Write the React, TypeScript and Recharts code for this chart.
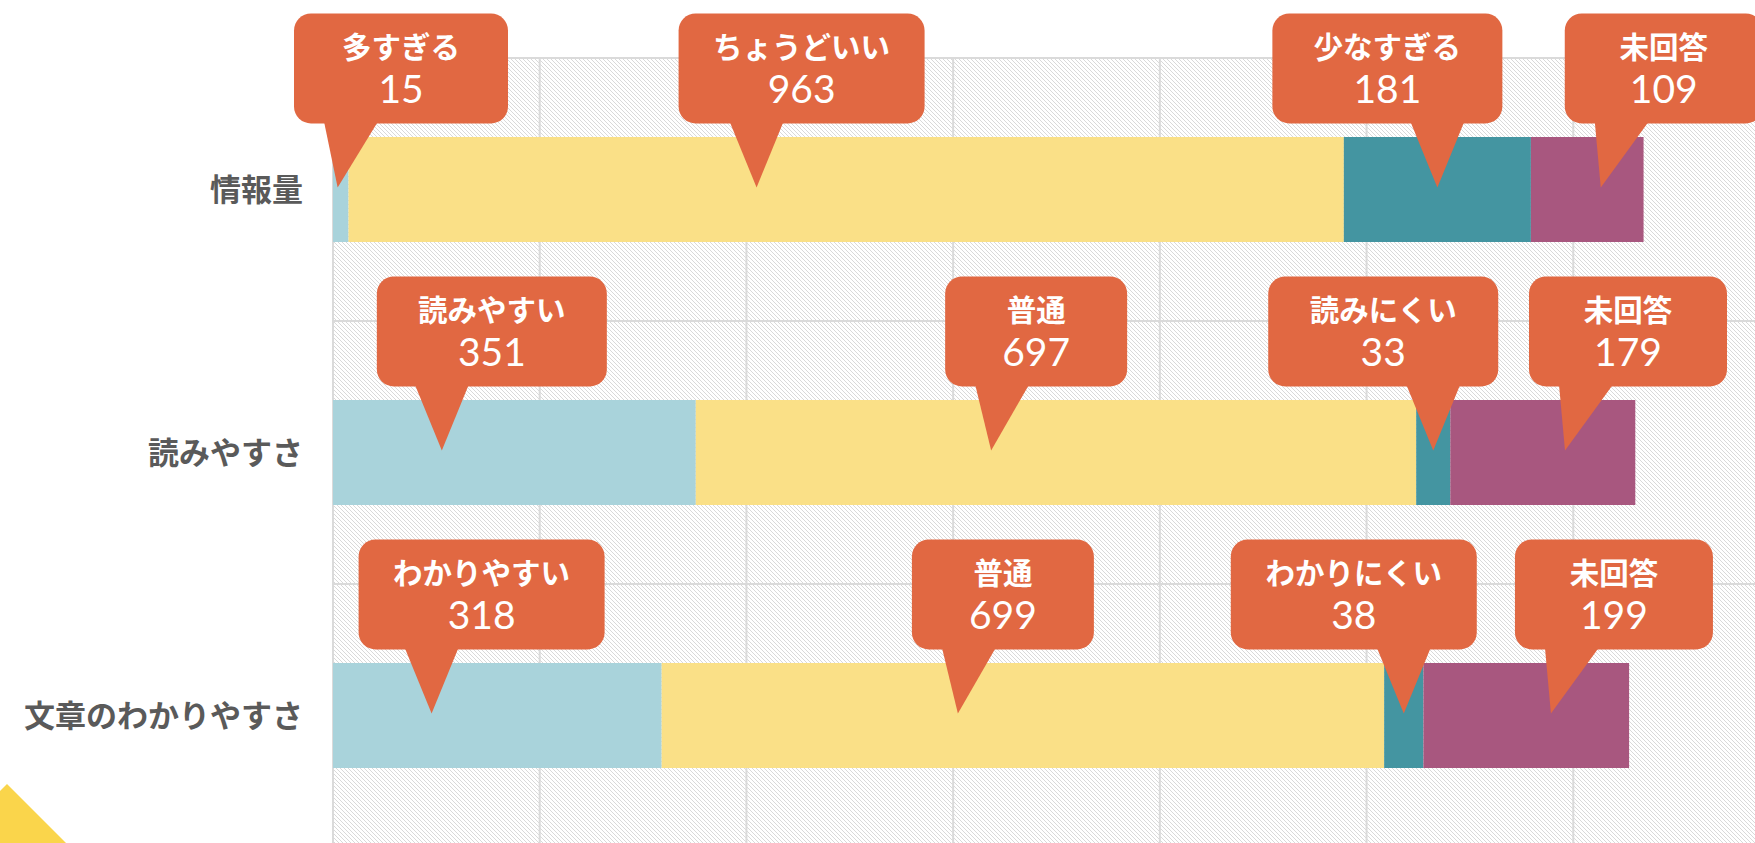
import { BarChart, Bar, XAxis, YAxis, CartesianGrid, LabelList } from "recharts";

const categories = ["情報量", "読みやすさ", "文章のわかりやすさ"];
const answerLabels = [
  ["多すぎる", "ちょうどいい", "少なすぎる", "未回答"],
  ["読みやすい", "普通", "読みにくい", "未回答"],
  ["わかりやすい", "普通", "わかりにくい", "未回答"],
];
const first = [15, 351, 318];
const second = [963, 697, 699];
const third = [181, 33, 38];
const noAnswer = [109, 179, 199];
const xTicks = [0, 200, 400, 600, 800, 1000, 1200, 1400];

const colors = ["#A9D3DB", "#FAE087", "#4495A1", "#A8577F"];
const calloutColor = "#E16842";

// where the pointer lands inside each segment, and how far the box sits from it
const tipFrac = [0.3, 0.41, 0.5, 0.62];
const boxShift = [50, 45, -50, 63];

const data = categories.map((name, i) => ({
  name,
  a: first[i],
  b: second[i],
  c: third[i],
  d: noAnswer[i],
}));

const series = [first, second, third, noAnswer];

function renderCallouts(props: any) {
  const vb = props.viewBox || props;
  const x = Number(vb.x);
  const y = Number(vb.y);
  const w = Number(vb.width);
  const h = Number(vb.height);
  let idx = props.index;
  if (idx === undefined || idx === null) {
    const v = Array.isArray(props.value) ? props.value[1] - props.value[0] : props.value;
    idx = noAnswer.indexOf(v);
  }
  const k = w / noAnswer[idx];
  const x0 = x - k * (first[idx] + second[idx] + third[idx]);
  const tipY = y + h / 2 - 2;
  const boxBottom = tipY - 64;
  const boxTop = boxBottom - 110;

  let cum = 0;
  const items = series.map((s, j) => {
    const start = x0 + k * cum;
    const segW = k * s[idx];
    cum += s[idx];
    const label = answerLabels[idx][j];
    const tipX = start + segW * tipFrac[j];
    const boxW = Math.max(180, 150 + 16 * label.length);
    const left = Math.max(tipX + boxShift[j] - boxW / 2, x0 - 39);
    const cx = left + boxW / 2;
    const baseL = Math.min(Math.max(tipX - 27, left + 30), left + boxW - 84);
    return (
      <g key={j}>
        <rect x={left} y={boxTop} width={boxW} height={110} rx={17} fill={calloutColor} />
        <polygon
          points={`${baseL},${boxBottom - 2} ${baseL + 54},${boxBottom - 2} ${tipX},${tipY}`}
          fill={calloutColor}
        />
        <text
          x={cx}
          y={boxTop + 45}
          textAnchor="middle"
          fill="#fff"
          fontSize={29.5}
          fontWeight={700}
          fontFamily="'Noto Sans CJK JP', sans-serif"
        >
          {label}
        </text>
        <text x={cx} y={boxTop + 90} textAnchor="middle" fill="#fff" fontSize={39} fontFamily="Lato, sans-serif">
          {s[idx]}
        </text>
      </g>
    );
  });
  return <g>{items}</g>;
}

export default function App() {
  return (
    <div
      style={{
        position: "absolute",
        left: 0,
        top: 0,
        width: 1755,
        height: 843,
        overflow: "hidden",
        background: "#fff",
      }}
    >
      <BarChart
        width={1780}
        height={848}
        data={data}
        layout="vertical"
        barCategoryGap="30%"
        margin={{ top: 58, right: 0, bottom: 1, left: 0 }}
      >
        <defs>
          <pattern id="hatch" width="4" height="4" patternUnits="userSpaceOnUse">
            <rect width="4" height="4" fill="#ffffff" />
            <path d="M0,0 L4,4 M-1,3 L1,5 M3,-1 L5,1" stroke="#d9d9d9" strokeWidth="1" />
          </pattern>
        </defs>
        <CartesianGrid
          fill="url(#hatch)"
          stroke="#dadada"
          strokeWidth={2}
          horizontalCoordinatesGenerator={({ offset }: any) => [
            offset.top,
            offset.top + offset.height / 3,
            offset.top + (offset.height * 2) / 3,
            offset.top + offset.height,
          ]}
        />
        <XAxis type="number" domain={[0, 1400]} ticks={xTicks} hide />
        <YAxis
          type="category"
          dataKey="name"
          width={333}
          axisLine={false}
          tickLine={false}
          tickSize={0}
          tickMargin={30}
          tick={{ fill: "#5a5a5a", fontSize: 31, fontWeight: 700, fontFamily: "'Noto Sans CJK JP', sans-serif" }}
        />
        <Bar dataKey="a" stackId="s" fill={colors[0]} isAnimationActive={false} />
        <Bar dataKey="b" stackId="s" fill={colors[1]} isAnimationActive={false} />
        <Bar dataKey="c" stackId="s" fill={colors[2]} isAnimationActive={false} />
        <Bar dataKey="d" stackId="s" fill={colors[3]} isAnimationActive={false}>
          <LabelList dataKey="d" content={renderCallouts} />
        </Bar>
      </BarChart>
      <svg width={120} height={100} style={{ position: "absolute", left: 0, top: 743 }}>
        <polygon points="7,41 66,100 -52,100" fill="#FAD54B" />
      </svg>
    </div>
  );
}
